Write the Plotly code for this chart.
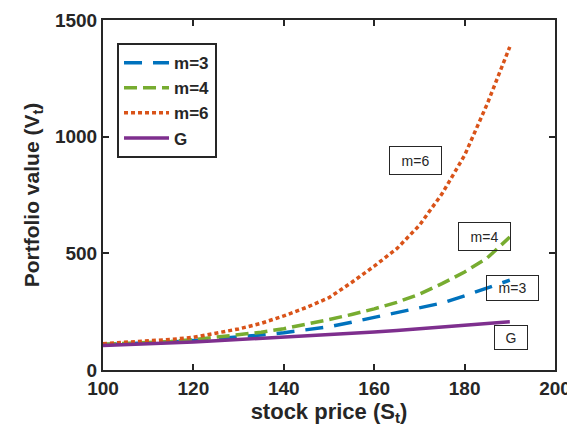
import plotly.graph_objects as go

stock_price = [100, 105, 110, 115, 120, 125, 130, 135, 140, 145, 150, 155, 160, 165, 170, 175, 180, 185, 190]
v_m3 = [108, 111, 115, 120, 126, 133, 140, 150, 160, 172, 185, 205, 225, 245, 264, 287, 318, 350, 385]
v_m4 = [110, 113, 117, 122, 130, 140, 150, 162, 177, 195, 216, 238, 262, 290, 325, 370, 420, 480, 570]
v_m6 = [113, 118, 124, 131, 140, 158, 176, 200, 232, 268, 310, 375, 445, 520, 620, 755, 920, 1140, 1385]
v_G = [105, 108, 112, 116, 120, 125, 130, 135, 140, 145, 151, 157, 163, 169, 176, 183, 191, 199, 207]

series_names = ["m=3", "m=4", "m=6", "G"]
series_values = [v_m3, v_m4, v_m6, v_G]
colors = ["#0072BD", "#77AC30", "#D95319", "#7E2F8E"]
dashes = ["18px,11px", "13px,6px", "4px,3px", "solid"]

ann_labels = ["m=6", "m=4", "m=3", "G"]
ann_x = [169.2, 184.5, 190.7, 190.3]
ann_y = [900, 574, 351, 141]
ann_w = [51, 51, 51, 32]
ann_h = [27, 27, 24, 23]

FONT = "Liberation Sans, Arial"
INK = "#262626"

fig = go.Figure()
for name, vals, c, d in zip(series_names, series_values, colors, dashes):
    fig.add_trace(go.Scatter(x=stock_price, y=vals, mode="lines", name="<b>" + name + "</b>",
                             line=dict(color=c, width=3.5, dash=d)))

for t, ax_, ay_, w, h in zip(ann_labels, ann_x, ann_y, ann_w, ann_h):
    fig.add_annotation(x=ax_, y=ay_, xref="x", yref="y", text=t, showarrow=False,
                       width=w, height=h, align="center", valign="middle",
                       font=dict(family=FONT, size=14, color=INK),
                       bordercolor=INK, borderwidth=1, borderpad=0, bgcolor="rgba(255,255,255,0)")

axis_common = dict(showgrid=False, zeroline=False, showline=True, linecolor=INK, linewidth=2,
                   mirror="ticks", ticks="inside", ticklen=6, tickwidth=2, tickcolor=INK,
                   automargin=False,
                   tickfont=dict(family=FONT, size=19, color=INK))

fig.update_xaxes(range=[100, 200], tickvals=[100, 120, 140, 160, 180, 200],
                 ticktext=["<b>%d</b>" % v for v in [100, 120, 140, 160, 180, 200]],
                 title=dict(text="<b>stock price (S<sub>t</sub>)</b>", standoff=4,
                            font=dict(family=FONT, size=22, color=INK)),
                 **axis_common)
fig.update_yaxes(range=[0, 1500], tickvals=[0, 500, 1000, 1500],
                 ticktext=["<b>%d</b>" % v for v in [0, 500, 1000, 1500]],
                 title=dict(text="<b>Portfolio value (V<sub>t</sub>)</b>", standoff=10,
                            font=dict(family=FONT, size=21, color=INK)),
                 **axis_common)

fig.update_layout(
    width=575, height=435,
    margin=dict(l=95, r=28, t=12, b=73),
    paper_bgcolor="white", plot_bgcolor="white",
    font=dict(family=FONT, color=INK),
    legend=dict(x=0.031, y=0.934, xanchor="left", yanchor="top",
                bordercolor=INK, borderwidth=2, bgcolor="white",
                font=dict(family=FONT, size=17, color=INK),
                tracegroupgap=0, itemwidth=45),
)

fig.write_html("out.html")
